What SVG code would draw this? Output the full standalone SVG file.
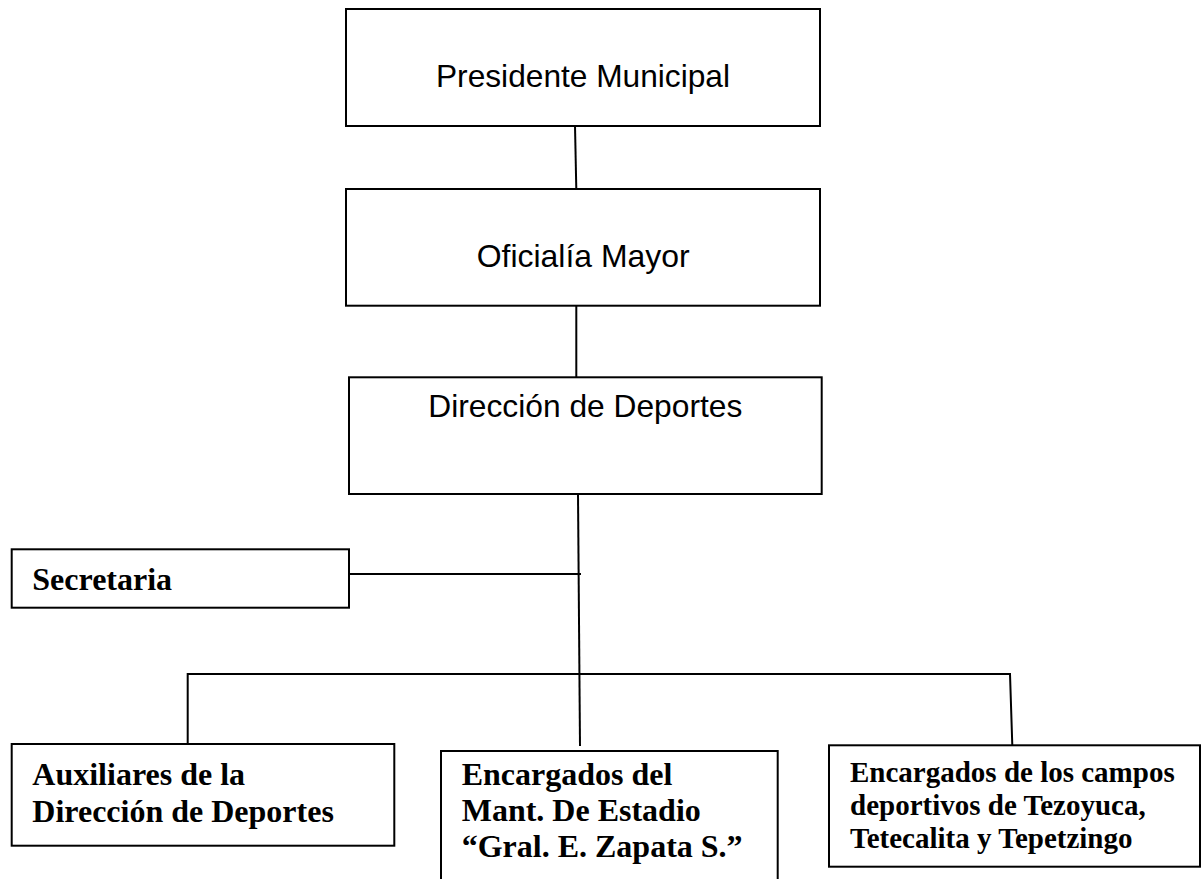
<svg xmlns="http://www.w3.org/2000/svg" width="1202" height="879" viewBox="0 0 1202 879">
<style>
.box{fill:#fff;stroke:#000;stroke-width:2}
.ln{fill:none;stroke:#000;stroke-width:2}
.sans{font-family:"Liberation Sans",Arial,sans-serif;font-size:31.5px;fill:#000}
.serif{font-family:"Liberation Serif","Times New Roman",serif;font-weight:bold;font-size:32px;fill:#000}
.serif2{font-family:"Liberation Serif","Times New Roman",serif;font-weight:bold;font-size:29px;fill:#000}
</style>
<rect width="1202" height="879" fill="#fff"/>
<g id="connectors">
<line class="ln" x1="575" y1="126" x2="576.3" y2="189"/>
<line class="ln" x1="576.3" y1="305.7" x2="576.3" y2="377"/>
<line class="ln" x1="578" y1="494" x2="580" y2="746"/>
<line class="ln" x1="349" y1="574" x2="581" y2="574"/>
<polyline class="ln" points="187.7,744 187.7,674 1010,674 1012.3,745.3"/>
</g>
<g id="presidente">
<rect class="box" x="346" y="9" width="474" height="117"/>
<text class="sans" x="436" y="87" textLength="294" lengthAdjust="spacingAndGlyphs">Presidente Municipal</text>
</g>
<g id="oficialia">
<rect class="box" x="346" y="189" width="474" height="116.7"/>
<text class="sans" x="476.7" y="266.7" textLength="213" lengthAdjust="spacingAndGlyphs">Oficialía Mayor</text>
</g>
<g id="direccion">
<rect class="box" x="349" y="377.3" width="472.7" height="116.7"/>
<text class="sans" x="428.3" y="417.3" textLength="314" lengthAdjust="spacingAndGlyphs">Dirección de Deportes</text>
</g>
<g id="secretaria">
<rect class="box" x="11.7" y="549.3" width="337.3" height="58.4"/>
<text class="serif" x="32.3" y="590">Secretaria</text>
</g>
<g id="auxiliares">
<rect class="box" x="11.7" y="744" width="382.6" height="101.7"/>
<text class="serif" x="32.3" y="785">Auxiliares de la</text>
<text class="serif" x="32.3" y="822.3">Dirección de Deportes</text>
</g>
<g id="estadio">
<rect class="box" x="441" y="751" width="336.7" height="140"/>
<text class="serif" x="461.7" y="785">Encargados del</text>
<text class="serif" x="461.7" y="821">Mant. De Estadio</text>
<text class="serif" x="461.7" y="856.7">“Gral. E. Zapata S.”</text>
</g>
<g id="campos">
<rect class="box" x="829" y="745.3" width="371" height="121.4"/>
<text class="serif2" x="850" y="781.7">Encargados de los campos</text>
<text class="serif2" x="850" y="815">deportivos de Tezoyuca,</text>
<text class="serif2" x="850" y="848.3">Tetecalita y Tepetzingo</text>
</g>
</svg>
